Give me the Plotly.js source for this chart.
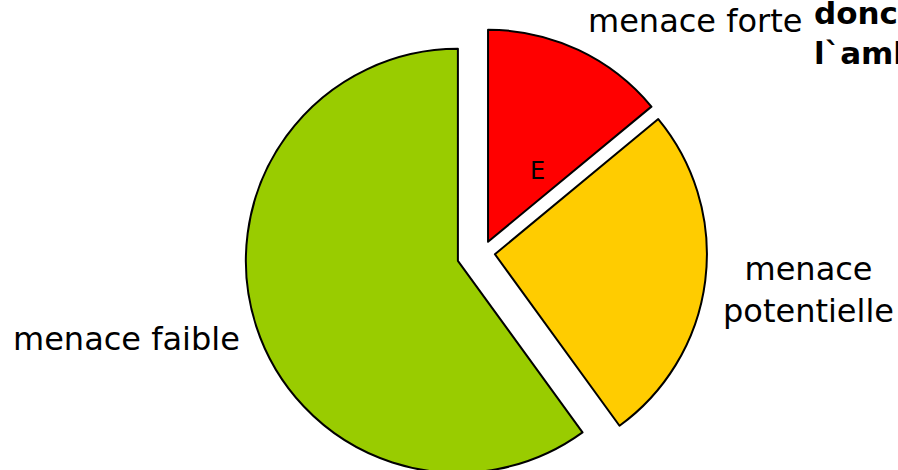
<!DOCTYPE html>
<html>
<head>
<meta charset="utf-8">
<script src="https://cdn.plot.ly/plotly-3.0.1.min.js"></script>
<style>
  html, body { margin: 0; padding: 0; background: #ffffff; overflow: hidden; width: 898px; height: 470px; }
  #chart { width: 898px; height: 491px; }
</style>
</head>
<body>
<div id="chart"></div>
<script>
// Data
var categories = ['menace forte', 'menace potentielle', 'menace faible'];
var shares = [14, 26, 60];
var sliceColors = ['#FF0000', '#FFCC00', '#99CC00'];
var slicePulls = [0.057, 0.057, 0.124];
var insideTexts = ['E', '', ''];
var labelTexts = ['menace forte', 'menace<br>potentielle', 'menace faible'];
var titleLines = ['donc', 'l`amb'];

var W = 898, H = 491;
function px(x) { return x / W; }
function py(y) { return 1 - y / H; }

var labelFont = { family: 'DejaVu Sans, Verdana, sans-serif', size: 32, color: '#000000' };

var trace = {
  type: 'pie',
  labels: categories,
  values: shares,
  sort: false,
  direction: 'clockwise',
  rotation: 0,
  pull: slicePulls,
  marker: { colors: sliceColors, line: { color: '#000000', width: 2 } },
  textinfo: 'none',
  hoverinfo: 'label+percent',
  showlegend: false,
  domain: { x: [0.1, 0.9755], y: [0, 0.9707] }
};

var annotations = [
  { text: labelTexts[0], x: px(695), y: py(21), xanchor: 'center', yanchor: 'middle' },
  { text: labelTexts[1], x: px(808), y: py(290), xanchor: 'center', yanchor: 'middle', align: 'center' },
  { text: labelTexts[2], x: px(126), y: py(339), xanchor: 'center', yanchor: 'middle' },
  { text: insideTexts[0], x: px(537), y: py(170.5), xanchor: 'center', yanchor: 'middle',
    font: { family: 'DejaVu Sans, Verdana, sans-serif', size: 24, color: '#000000' } },
  { text: '<b>' + titleLines.join('<br>') + '</b>', x: px(812), y: py(33), xanchor: 'left', yanchor: 'middle', align: 'left',
    font: { family: 'DejaVu Sans, Verdana, sans-serif', size: 31, color: '#000000' } }
].map(function (a) {
  a.xref = 'paper'; a.yref = 'paper'; a.showarrow = false;
  if (!a.font) a.font = labelFont;
  return a;
});

var layout = {
  width: W,
  height: H,
  margin: { l: 0, r: 0, t: 0, b: 0, pad: 0 },
  paper_bgcolor: '#ffffff',
  plot_bgcolor: '#ffffff',
  showlegend: false,
  annotations: annotations
};

Plotly.newPlot('chart', [trace], layout, { displayModeBar: false, staticPlot: true });
</script>
</body>
</html>
